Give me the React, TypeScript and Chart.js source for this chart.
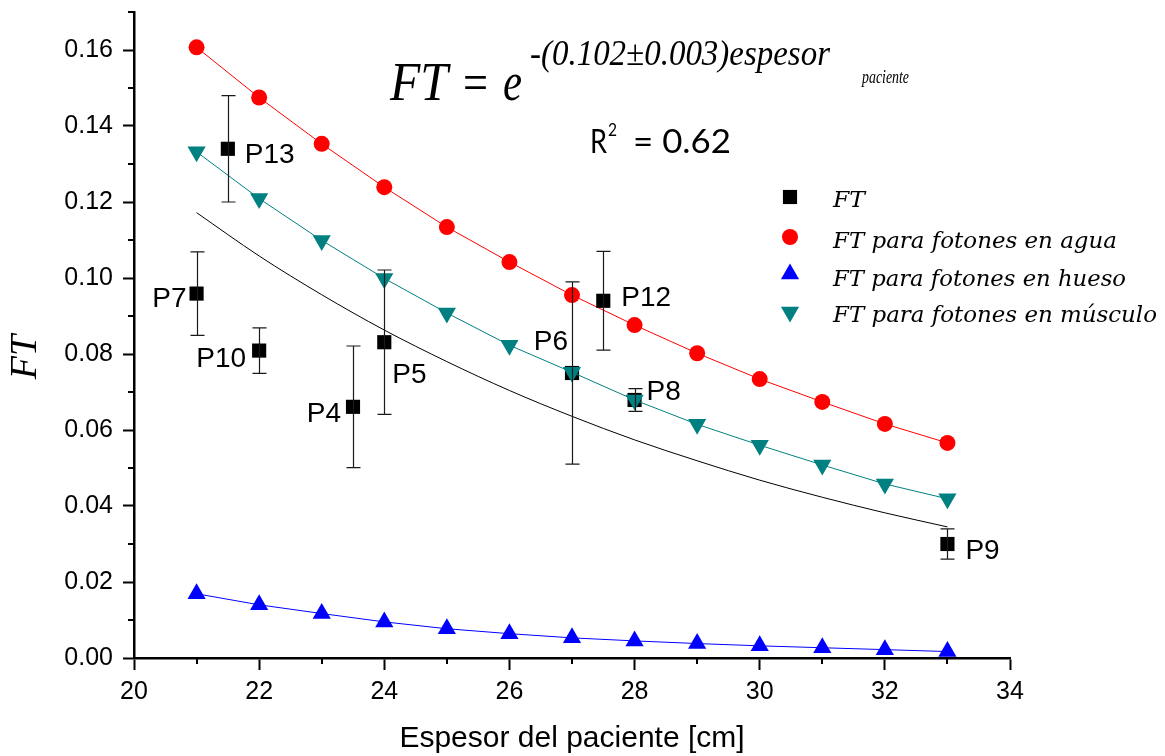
import React, { useEffect, useRef } from 'react';
import { Chart, registerables } from 'chart.js';
import { drawPoint } from 'chart.js/helpers';

Chart.register(...registerables);

// ---------- data ----------
const thickness = [21, 22, 23, 24, 25, 26, 27, 28, 29, 30, 31, 32, 33];
const ftWater = [0.1607, 0.1475, 0.1353, 0.1239, 0.1134, 0.1042, 0.0955, 0.0876, 0.0802, 0.0734, 0.0674, 0.0616, 0.0566];
const ftBone = [0.0169, 0.0140, 0.0117, 0.0095, 0.0077, 0.0064, 0.0053, 0.0045, 0.0038, 0.0032, 0.0027, 0.0022, 0.0017];
const ftMuscle = [0.1332, 0.1209, 0.1099, 0.0999, 0.0908, 0.0823, 0.0752, 0.0679, 0.0615, 0.0560, 0.0508, 0.0458, 0.0419];
const ftFit = [0.1172, 0.1058, 0.0956, 0.0863, 0.0780, 0.0704, 0.0636, 0.0574, 0.0519, 0.0468, 0.0423, 0.0382, 0.0345];

const patientNames = ['P13', 'P7', 'P10', 'P4', 'P5', 'P6', 'P12', 'P8', 'P9'];
const patientThickness = [21.5, 21, 22, 23.5, 24, 27, 27.5, 28, 33];
const patientFT = [0.1340, 0.0959, 0.0809, 0.0661, 0.0831, 0.0750, 0.0940, 0.0679, 0.0300];
const patientError = [0.014, 0.011, 0.006, 0.016, 0.019, 0.024, 0.013, 0.003, 0.004];

const xMajorTicks = [20, 22, 24, 26, 28, 30, 32, 34];
const xMinorTicks = [21, 23, 25, 27, 29, 31, 33];
const yMinorTicks = [0.01, 0.03, 0.05, 0.07, 0.09, 0.11, 0.13, 0.15, 0.17];

const seriesLabels = ['FT', 'FT para fotones en agua', 'FT para fotones en hueso', 'FT para fotones en músculo'];

// ---------- styles / positions (not data) ----------
const labelOffsets = [
  { dx: 17, dy: 14, align: 'left' },
  { dx: -10, dy: 13, align: 'right' },
  { dx: -13, dy: 16, align: 'right' },
  { dx: -12, dy: 15, align: 'right' },
  { dx: 8, dy: 41, align: 'left' },
  { dx: -4, dy: -23, align: 'right' },
  { dx: 18, dy: 5, align: 'left' },
  { dx: 12, dy: 0, align: 'left' },
  { dx: 18, dy: 15, align: 'left' },
];

const legendLayout = {
  markerX: 790,
  textX: 833,
  rows: [
    { markerY: 197, textY: 207, width: 32 },
    { markerY: 237, textY: 248, width: 284 },
    { markerY: 274, textY: 286, width: 293 },
    { markerY: 312, textY: 322, width: 324 },
  ],
};

const SANS = "'Liberation Sans', Arial, sans-serif";
const SERIF = "'Liberation Serif', 'Times New Roman', serif";
const DSERIF = "'DejaVu Serif', serif";
const CALIB = "Lato, 'Open Sans', sans-serif";

function fitText(
  ctx: CanvasRenderingContext2D,
  text: string,
  x: number,
  y: number,
  font: string,
  width: number
) {
  ctx.save();
  ctx.font = font;
  ctx.textAlign = 'left';
  ctx.textBaseline = 'alphabetic';
  const w = ctx.measureText(text).width;
  const s = width / w;
  ctx.translate(x, y);
  ctx.scale(s, 1);
  ctx.fillText(text, 0, 0);
  ctx.restore();
}

const extrasPlugin = {
  id: 'extras',
  afterDatasetsDraw(chart: any) {
    const ctx: CanvasRenderingContext2D = chart.ctx;
    const xs = chart.scales.x;
    const ys = chart.scales.y;

    // error bars
    ctx.save();
    ctx.strokeStyle = '#1a1a1a';
    ctx.lineWidth = 1.2;
    patientThickness.forEach((t, i) => {
      const px = Math.round(xs.getPixelForValue(t)) + 0.5;
      const yt = ys.getPixelForValue(patientFT[i] + patientError[i]);
      const yb = ys.getPixelForValue(patientFT[i] - patientError[i]);
      ctx.beginPath();
      ctx.moveTo(px, yt);
      ctx.lineTo(px, yb);
      ctx.moveTo(px - 7, yt);
      ctx.lineTo(px + 7, yt);
      ctx.moveTo(px - 7, yb);
      ctx.lineTo(px + 7, yb);
      ctx.stroke();
    });
    ctx.restore();

    // point labels
    ctx.save();
    ctx.fillStyle = '#000';
    ctx.font = `28px ${SANS}`;
    ctx.textBaseline = 'alphabetic';
    patientNames.forEach((name, i) => {
      const px = xs.getPixelForValue(patientThickness[i]);
      const py = ys.getPixelForValue(patientFT[i]);
      const o = labelOffsets[i];
      ctx.textAlign = o.align as CanvasTextAlign;
      ctx.fillText(name, px + o.dx, py + o.dy);
    });
    ctx.restore();
  },
  afterDraw(chart: any) {
    const ctx: CanvasRenderingContext2D = chart.ctx;
    const xs = chart.scales.x;
    const ys = chart.scales.y;
    const area = chart.chartArea;

    // minor ticks
    ctx.save();
    ctx.strokeStyle = '#000';
    ctx.lineWidth = 2;
    ctx.beginPath();
    yMinorTicks.forEach((v) => {
      const py = Math.round(ys.getPixelForValue(v));
      ctx.moveTo(area.left - 6, py);
      ctx.lineTo(area.left, py);
    });
    xMinorTicks.forEach((v) => {
      const px = Math.round(xs.getPixelForValue(v));
      ctx.moveTo(px, area.bottom);
      ctx.lineTo(px, area.bottom + 6);
    });
    ctx.stroke();
    ctx.restore();

    ctx.save();
    ctx.fillStyle = '#000';

    // y-axis title
    ctx.save();
    ctx.translate(26, 357);
    ctx.rotate(-Math.PI / 2);
    ctx.font = `italic 38px ${SERIF}`;
    ctx.textAlign = 'center';
    ctx.textBaseline = 'middle';
    ctx.fillText('FT', 0, 0);
    ctx.restore();

    // equation
    fitText(ctx, 'FT', 390, 100, `italic 54px ${SERIF}`, 58);
    fitText(ctx, '=', 463, 100, `52px ${SERIF}`, 25);
    fitText(ctx, 'e', 503, 100, `italic 54px ${SERIF}`, 19);
    fitText(ctx, '-(0.102±0.003)espesor', 530, 65, `italic 35px ${SERIF}`, 300);
    fitText(ctx, 'paciente', 862, 83, `italic 18px ${SERIF}`, 47);

    // R^2
    fitText(ctx, 'R', 590, 153, `33px ${CALIB}`, 17);
    fitText(ctx, '2', 608, 136, `18px ${CALIB}`, 9);
    fitText(ctx, '= 0.62', 633, 153, `33px ${CALIB}`, 98);

    // legend
    const datasets = chart.data.datasets;
    seriesLabels.forEach((label, i) => {
      const ds = datasets.find((d: any) => d.label === label);
      const row = legendLayout.rows[i];
      ctx.fillStyle = ds.pointBackgroundColor;
      drawPoint(
        ctx,
        {
          pointStyle: ds.pointStyle,
          rotation: ds.pointRotation || 0,
          radius: ds.pointRadius,
          borderWidth: 0,
        } as any,
        legendLayout.markerX,
        row.markerY
      );
      ctx.fillStyle = '#000';
      fitText(ctx, label, legendLayout.textX, row.textY, `italic 23px ${DSERIF}`, row.width);
    });
    ctx.restore();
  },
};

export default function App() {
  const canvasRef = useRef<HTMLCanvasElement | null>(null);

  useEffect(() => {
    const canvas = canvasRef.current;
    if (!canvas) return;
    const toXY = (xsArr: number[], ysArr: number[]) => xsArr.map((x, i) => ({ x, y: ysArr[i] }));

    const chart = new Chart(canvas, {
      type: 'scatter',
      data: {
        datasets: [
          {
            label: 'fit',
            data: toXY(thickness, ftFit),
            showLine: true,
            borderColor: '#000',
            borderWidth: 1,
            pointRadius: 0,
            cubicInterpolationMode: 'monotone',
            order: 5,
          },
          {
            label: seriesLabels[0],
            data: toXY(patientThickness, patientFT),
            showLine: false,
            pointStyle: 'rect',
            pointRadius: 10,
            pointBackgroundColor: '#000',
            pointBorderWidth: 0,
            order: 2,
          },
          {
            label: seriesLabels[1],
            data: toXY(thickness, ftWater),
            showLine: true,
            borderColor: '#ff0000',
            borderWidth: 1,
            pointStyle: 'circle',
            pointRadius: 8,
            pointBackgroundColor: '#ff0000',
            pointBorderWidth: 0,
            order: 3,
          },
          {
            label: seriesLabels[2],
            data: toXY(thickness, ftBone),
            showLine: true,
            borderColor: '#0000ff',
            borderWidth: 1,
            pointStyle: 'triangle',
            pointRadius: 10.5,
            pointBackgroundColor: '#0000ff',
            pointBorderWidth: 0,
            order: 4,
          },
          {
            label: seriesLabels[3],
            data: toXY(thickness, ftMuscle),
            showLine: true,
            borderColor: '#008080',
            borderWidth: 1,
            pointStyle: 'triangle',
            pointRotation: 180,
            pointRadius: 10.5,
            pointBackgroundColor: '#008080',
            pointBorderWidth: 0,
            order: 1,
          },
        ],
      } as any,
      options: {
        responsive: false,
        animation: false,
        events: [],
        layout: { padding: { left: 0, right: 155, top: 12, bottom: 0 } },
        plugins: {
          legend: { display: false },
          tooltip: { enabled: false },
        },
        scales: {
          x: {
            type: 'linear',
            min: 20,
            max: 34,
            afterBuildTicks: (s: any) => {
              s.ticks = xMajorTicks.map((v) => ({ value: v }));
            },
            afterFit: (s: any) => {
              s.height = 98;
              s.paddingLeft = 0;
              s.paddingRight = 0;
            },
            ticks: {
              color: '#000',
              font: { family: SANS, size: 25 },
              padding: 7,
              maxRotation: 0,
            },
            grid: {
              drawOnChartArea: false,
              drawTicks: true,
              tickLength: 12,
              tickWidth: 2,
              tickColor: '#000',
            },
            border: { display: true, color: '#000', width: 2.5 },
            title: {
              display: true,
              text: 'Espesor del paciente [cm]',
              color: '#000',
              font: { family: SANS, size: 30 },
              padding: { top: 0, bottom: -1 },
            },
          },
          y: {
            type: 'linear',
            min: 0,
            max: 0.17,
            afterFit: (s: any) => {
              s.width = 134;
              s.paddingTop = 0;
              s.paddingBottom = 0;
            },
            ticks: {
              stepSize: 0.02,
              includeBounds: false,
              color: '#000',
              font: { family: SANS, size: 25 },
              padding: 10,
              callback: (v: any) => Number(v).toFixed(2),
            },
            grid: {
              drawOnChartArea: false,
              drawTicks: true,
              tickLength: 11,
              tickWidth: 2,
              tickColor: '#000',
            },
            border: { display: true, color: '#000', width: 2.5 },
          },
        },
      } as any,
      plugins: [extrasPlugin],
    });

    return () => chart.destroy();
  }, []);

  return (
    <div style={{ position: 'absolute', left: 0, top: 0, width: 1165, height: 756, background: '#fff' }}>
      <canvas ref={canvasRef} width={1165} height={756} style={{ display: 'block' }} />
    </div>
  );
}
